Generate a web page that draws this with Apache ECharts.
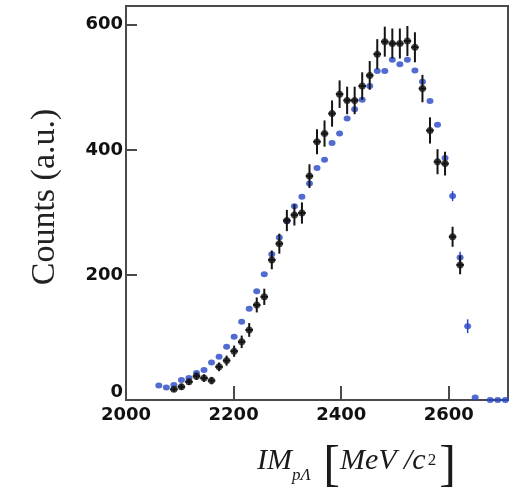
<!DOCTYPE html>
<html>
<head>
<meta charset="utf-8">
<script src="https://cdn.jsdelivr.net/npm/echarts@6/dist/echarts.min.js"></script>
<style>
  html, body { margin: 0; padding: 0; background: #fff; }
  #chart { width: 514px; height: 491px; }
</style>
</head>
<body>
<div id="chart"></div>
<script>
// Invariant-mass bin centres (MeV/c^2), 14 MeV bins
const massBins = [
  2061, 2075, 2089, 2103, 2117, 2131, 2145, 2159, 2173, 2187,
  2201, 2215, 2229, 2243, 2257, 2271, 2285, 2299, 2313, 2327,
  2341, 2355, 2369, 2383, 2397, 2411, 2425, 2439, 2453, 2467,
  2481, 2495, 2509, 2523, 2537, 2551, 2565, 2579, 2593, 2607,
  2621, 2635, 2649, 2663, 2677, 2691, 2705
];

// Simulated spectrum (blue)
const simCounts = [
  23, 20, 24, 32, 35, 43, 48, 60, 69, 85,
  101, 125, 146, 174, 201, 233, 260, 286, 310, 325,
  346, 371, 384, 411, 426, 450, 465, 480, 502, 526,
  526, 544, 537, 544, 527, 509, 478, 440, 387, 326,
  228, 118, 4, null, 0, 0, 0
];
const simErrors = [
  0, 0, 0, 0, 0, 0, 0, 0, 0, 0,
  0, 0, 0, 0, 0, 0, 0, 0, 0, 0,
  0, 0, 0, 0, 0, 0, 0, 0, 0, 0,
  0, 0, 0, 0, 0, 0, 0, 0, 9, 8,
  9, 11, 0, 0, 0, 0, 0
];

// Measured spectrum (black) with statistical errors
const dataCounts = [
  null, null, 17, 21, 29, 38, 35, 31, 53, 63,
  78, 93, 112, 152, 165, 224, 250, 287, 296, 299,
  358, 413, 426, 458, 489, 479, 479, 502, 519, 553,
  573, 570, 570, 574, 564, 498, 431, 381, 378, 261,
  216, null, null, null, null, null, null
];
const dataErrors = [
  0, 0, 4, 5, 5, 6, 6, 6, 7, 8,
  9, 10, 11, 12, 13, 15, 16, 17, 17, 17,
  19, 20, 21, 21, 22, 22, 22, 22, 23, 24,
  24, 24, 24, 24, 24, 22, 21, 20, 19, 16,
  15, 0, 0, 0, 0, 0, 0
];

const xTickLabels = [2000, 2200, 2400, 2600];
const yTickLabels = [0, 200, 400, 600];

const BIN_HALF = 7;
const BLACK = '#141414';
const BLUE = '#2746c6';

function points(counts) {
  const out = [];
  massBins.forEach((m, i) => { if (counts[i] != null) out.push([m, counts[i]]); });
  return out;
}
function bars(counts, errs) {
  const out = [];
  massBins.forEach((m, i) => {
    if (counts[i] != null && errs[i] > 0) out.push([m, counts[i], errs[i]]);
  });
  return out;
}

function errorBar(color, width, halfBin) {
  return function (params, api) {
    const x = api.value(0), y = api.value(1), e = api.value(2);
    const hi = api.coord([x, y + e]);
    const lo = api.coord([x, y - e]);
    const style = { stroke: color, lineWidth: width };
    const children = [
      { type: 'line', shape: { x1: hi[0], y1: hi[1], x2: lo[0], y2: lo[1] }, style: style }
    ];
    if (halfBin > 0) {
      const l = api.coord([x - halfBin, y]);
      const r = api.coord([x + halfBin, y]);
      children.push({ type: 'line', shape: { x1: l[0], y1: l[1], x2: r[0], y2: r[1] }, style: style });
    }
    return { type: 'group', children: children };
  };
}

const frameColor = '#4a4a4a';
const tickFont = {
  color: '#111',
  fontFamily: 'DejaVu Sans',
  fontWeight: 'bold',
  fontSize: 18
};
const serif = 'Liberation Serif';
const ink = '#1a1a1a';

const chart = echarts.init(document.getElementById('chart'), null, { renderer: 'canvas' });
chart.setOption({
  animation: false,
  backgroundColor: '#fff',
  grid: {
    left: 126, right: 6, top: 6, bottom: 91,
    show: true, borderColor: frameColor, borderWidth: 2
  },
  xAxis: {
    type: 'value', min: 2000, max: 2710, interval: 200,
    axisLine: { show: true, onZero: false, lineStyle: { color: frameColor, width: 2 } },
    axisTick: { show: true, inside: true, length: 14, lineStyle: { color: frameColor, width: 2 } },
    axisLabel: Object.assign({
      margin: 6, showMaxLabel: false,
      formatter: v => xTickLabels.includes(v) ? String(v) : ''
    }, tickFont),
    splitLine: { show: false }
  },
  yAxis: {
    type: 'value', min: 0, max: 630, interval: 200,
    axisLine: { show: true, lineStyle: { color: frameColor, width: 2 } },
    axisTick: { show: true, inside: true, length: 11, lineStyle: { color: frameColor, width: 2 } },
    axisLabel: Object.assign({
      margin: 3, showMaxLabel: false,
      formatter: v => {
        if (!yTickLabels.includes(v)) return '';
        return v === 0 ? '{z|0}' : String(v);
      },
      rich: { z: Object.assign({ padding: [0, 0, 16, 0] }, tickFont) }
    }, tickFont),
    splitLine: { show: false }
  },
  graphic: [
    {
      type: 'text', x: 45, y: 197, rotation: Math.PI / 2,
      style: {
        text: 'Counts (a.u.)',
        fontFamily: serif, fontSize: 34, fill: '#222',
        align: 'center', verticalAlign: 'middle'
      }
    },
    {
      type: 'text', x: 257, y: 435,
      style: {
        text: '{i|IM}{s|pΛ}{b| [}{i|MeV /c}{p|2}{b|]}',
        fill: ink,
        rich: {
          i: { fontFamily: serif, fontStyle: 'italic', fontSize: 30, lineHeight: 30, verticalAlign: 'middle', fill: ink },
          s: { fontFamily: serif, fontStyle: 'italic', fontSize: 17, lineHeight: 17, verticalAlign: 'bottom', padding: [0, 0, 3, 0], fill: ink },
          p: { fontFamily: serif, fontSize: 17, lineHeight: 17, verticalAlign: 'top', padding: [17, 3, 0, 2], fill: ink },
          b: { fontFamily: serif, fontSize: 50, lineHeight: 52, verticalAlign: 'top', padding: [7, 0, 0, 0], fill: ink }
        }
      }
    }
  ],
  series: [
    {
      name: 'simulation errors', type: 'custom',
      renderItem: errorBar(BLUE, 1.5, 0),
      data: bars(simCounts, simErrors), z: 2, silent: true
    },
    {
      name: 'simulation', type: 'scatter',
      data: points(simCounts), symbol: 'circle', symbolSize: [7, 6],
      itemStyle: { color: BLUE }, z: 3, silent: true
    },
    {
      name: 'data errors', type: 'custom',
      renderItem: errorBar(BLACK, 2, BIN_HALF),
      data: bars(dataCounts, dataErrors), z: 4, silent: true
    },
    {
      name: 'data', type: 'scatter',
      data: points(dataCounts), symbol: 'circle', symbolSize: 7,
      itemStyle: { color: BLACK }, z: 5, silent: true
    }
  ]
});
</script>
</body>
</html>
